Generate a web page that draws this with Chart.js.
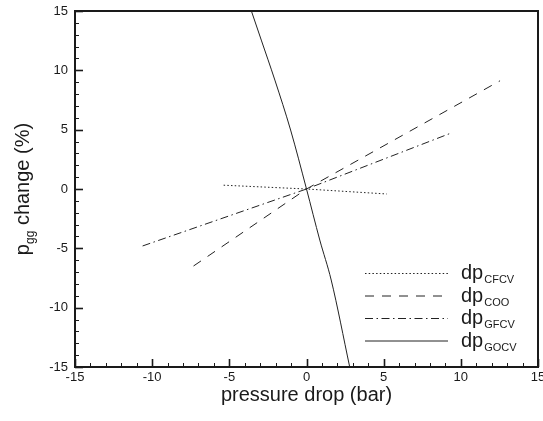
<!DOCTYPE html>
<html>
<head>
<meta charset="utf-8">
<script src="https://cdn.jsdelivr.net/npm/chart.js@4/dist/chart.umd.min.js"></script>
<style>
  html,body{margin:0;padding:0;background:#fff}
  #wrap{width:543px;height:421px;position:relative}
</style>
</head>
<body>
<div id="wrap"><canvas id="c"></canvas></div>
<script>
/* ---------- data ---------- */
const AXIS_MIN = -15, AXIS_MAX = 15, MAJOR_STEP = 5, MINOR_STEP = 1;

const cfcvX = [-5.37, 0, 5.2];
const cfcvY = [0.32, 0, -0.42];

const cooX  = [-7.32, 0, 12.54];
const cooY  = [-6.49, 0, 9.12];

const gfcvX = [-10.62, 0, 9.42];
const gfcvY = [-4.8, 0, 4.74];

const gocvX = [-3.57, -2.93, -2.05, -1.03, 0, 0.86, 1.60, 2.80];
const gocvY = [15, 12.55, 9.18, 4.97, 0, -4.30, -7.67, -15];

const seriesBase = "dp";
const seriesSub  = ["CFCV", "COO", "GFCV", "GOCV"];

const xTitle = "pressure drop (bar)";
const yTitleParts = ["p", "gg", " change (%)"];

const FONT = '"Liberation Sans", Arial, sans-serif';
const INK = "#1a1a1a";

const pts = (xs, ys) => xs.map((x, i) => ({x, y: ys[i]}));

const DASHES = [[1.5, 2.2], [9, 8], [8, 3.5, 1.5, 3.5], []];
const SERIES = [pts(cfcvX, cfcvY), pts(cooX, cooY), pts(gfcvX, gfcvY), pts(gocvX, gocvY)];

/* ---------- frame, inner ticks, titles, legend ---------- */
const decor = {
  id: "decor",
  afterDraw(chart){
    const {ctx, chartArea: a, scales:{x, y}} = chart;
    ctx.save();
    ctx.strokeStyle = INK;
    // inward ticks on left + bottom
    for(let v = AXIS_MIN; v <= AXIS_MAX; v += MINOR_STEP){
      const major = v % MAJOR_STEP === 0;
      const len = major ? 8 : 4;
      ctx.lineWidth = major ? 1.6 : 1;
      const px = Math.round(x.getPixelForValue(v)) + 0.5;
      ctx.beginPath(); ctx.moveTo(px, a.bottom); ctx.lineTo(px, a.bottom - len); ctx.stroke();
      const py = Math.round(y.getPixelForValue(v)) + 0.5;
      ctx.beginPath(); ctx.moveTo(a.left, py); ctx.lineTo(a.left + len, py); ctx.stroke();
    }
    // frame
    ctx.lineWidth = 2;
    ctx.strokeRect(a.left, a.top, a.right - a.left, a.bottom - a.top);

    // axis titles
    ctx.fillStyle = INK;
    ctx.font = "20px " + FONT;
    ctx.textAlign = "center";
    ctx.textBaseline = "alphabetic";
    ctx.fillText(xTitle, (a.left + a.right) / 2, 401);

    ctx.save();
    ctx.translate(29, (a.top + a.bottom) / 2);
    ctx.rotate(-Math.PI / 2);
    ctx.font = "20px " + FONT;
    const w0 = ctx.measureText(yTitleParts[0]).width;
    ctx.font = "12px " + FONT;
    const w1 = ctx.measureText(yTitleParts[1]).width;
    ctx.font = "20px " + FONT;
    const w2 = ctx.measureText(yTitleParts[2]).width;
    let sx = -(w0 + w1 + w2) / 2;
    ctx.textAlign = "left";
    ctx.fillText(yTitleParts[0], sx, 0); sx += w0;
    ctx.font = "12px " + FONT;
    ctx.fillText(yTitleParts[1], sx, 5); sx += w1;
    ctx.font = "20px " + FONT;
    ctx.fillText(yTitleParts[2], sx, 0);
    ctx.restore();

    // legend
    const lx0 = 365, lx1 = 448, rowY = [273, 295.5, 318, 340.5];
    chart.data.datasets.forEach((ds, i) => {
      const ry = rowY[i];
      ctx.strokeStyle = ds.borderColor;
      ctx.lineWidth = 1;
      ctx.setLineDash(ds.borderDash || []);
      ctx.beginPath(); ctx.moveTo(lx0, ry + 0.5); ctx.lineTo(lx1, ry + 0.5); ctx.stroke();
      ctx.setLineDash([]);
      ctx.fillStyle = INK;
      ctx.textAlign = "left";
      ctx.font = "20px " + FONT;
      ctx.fillText(seriesBase, 461, ry + 6);
      const bw = ctx.measureText(seriesBase).width;
      ctx.font = "11px " + FONT;
      ctx.fillText(seriesSub[i], 461 + bw + 1, ry + 10);
    });
    ctx.restore();
  }
};

new Chart(document.getElementById("c"), {
  type: "line",
  data: {
    datasets: SERIES.map((d, i) => ({
      label: seriesBase + seriesSub[i],
      data: d,
      borderColor: "#222",
      borderWidth: 1,
      borderDash: DASHES[i],
      pointRadius: 0,
      tension: i === 3 ? 0.4 : 0,
      cubicInterpolationMode: i === 3 ? "monotone" : "default",
      fill: false
    }))
  },
  options: {
    responsive: true,
    maintainAspectRatio: false,
    animation: false,
    layout: {padding: {top: 11, right: 5, left: 0, bottom: 0}},
    plugins: {legend: {display: false}, tooltip: {enabled: false}},
    scales: {
      x: {
        type: "linear", min: AXIS_MIN, max: AXIS_MAX,
        grid: {display: false, drawTicks: false},
        border: {display: false},
        ticks: {stepSize: MAJOR_STEP, color: INK, padding: 3, maxRotation: 0,
                font: {family: FONT, size: 13}},
        afterFit(s){ s.height = 54; s.paddingLeft = 0; s.paddingRight = 0; }
      },
      y: {
        type: "linear", min: AXIS_MIN, max: AXIS_MAX,
        grid: {display: false, drawTicks: false},
        border: {display: false},
        ticks: {stepSize: MAJOR_STEP, color: INK, padding: 7,
                font: {family: FONT, size: 13}},
        afterFit(s){ s.width = 75; s.paddingTop = 0; s.paddingBottom = 0; }
      }
    }
  },
  plugins: [decor]
});
</script>
</body>
</html>
